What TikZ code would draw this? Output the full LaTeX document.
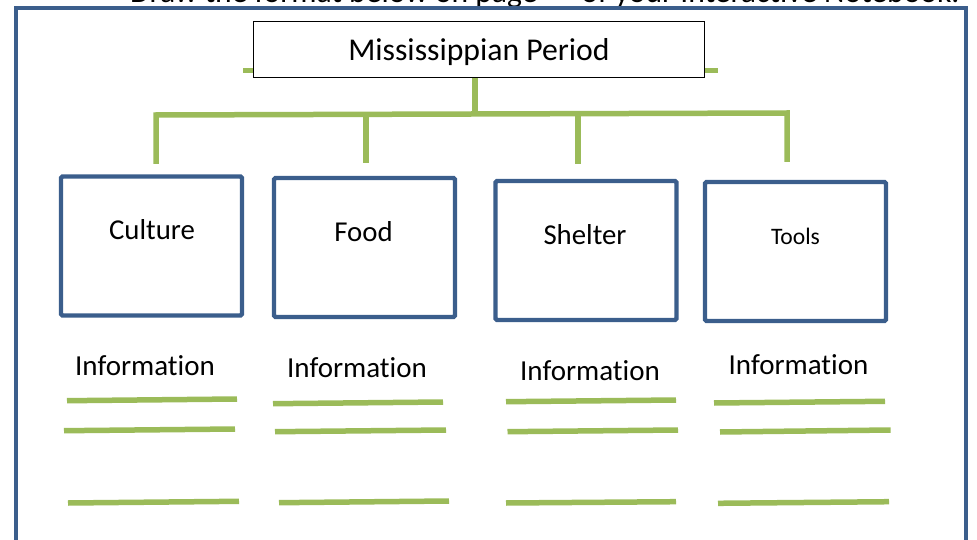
\documentclass[tikz,border=0pt]{standalone}
\usepackage{fontspec}
\setmainfont{Carlito}[Ligatures=NoCommon]
\usetikzlibrary{positioning}

\definecolor{frameblue}{HTML}{3B5E8C}
\definecolor{leafgreen}{HTML}{9BBB59}

\begin{document}
\begin{tikzpicture}[x=1pt,y=-1pt,
    catbox/.style={draw=frameblue,line width=4.3pt,rounded corners=1.5pt,minimum width=181pt,minimum height=139pt},
    catlabel/.style={anchor=base,inner sep=0pt,font=\fontsize{28.8}{34}\selectfont},
    infolabel/.style={anchor=base,inner sep=0pt,font=\fontsize{29}{35}\selectfont},
    branch/.style={draw=leafgreen,line width=5.5pt},
    writeline/.style={draw=leafgreen,line width=5.5pt}]
        \clip (0,0) rectangle (977,540);

        \node[anchor=base west,inner sep=0pt,font=\fontsize{31.6}{38}\selectfont] (note) at (130,3) {Draw the format below on page\hspace{44pt}of your Interactive Notebook.};
        \draw[frameblue,line width=4pt] (16,8) rectangle (966,600);

        % bar behind the title
        \coordinate (barW) at (243,71);
        \coordinate (barE) at (718,71);
        \draw[branch,line width=5pt] (barW) -- (barE);
        \node[draw,line width=1pt,fill=white,minimum width=451pt,minimum height=56pt,inner sep=0pt,
              text height=23pt,text depth=0pt,font=\fontsize{31.7}{38}\selectfont] (title) at (479,49.5) {Mississippian Period};

        % tree
        \coordinate (busMid) at (475,114);
        \coordinate (busW) at (156,115);
        \coordinate (busFood) at (366,114.5);
        \coordinate (busShelter) at (578,114);
        \coordinate (busE) at (787,113);
        \coordinate (dropCulture) at (156,164);
        \coordinate (dropFood) at (366,163);
        \coordinate (dropShelter) at (578,164);
        \coordinate (dropTools) at (787,162);
        \draw[branch] ([xshift=-4pt]title.south) -- (busMid);
        \draw[branch,line join=miter] (dropCulture) -- (busW) -- (busE) -- (dropTools);
        \draw[branch] (busFood) -- (dropFood);
        \draw[branch] (busShelter) -- (dropShelter);

        \node[catbox] (culture) at (151.5,246) {};
        \node[catbox] (food) at (364.5,247.5) {};
        \node[catbox] (shelter) at (586,250.5) {};
        \node[catbox] (tools) at (795.5,251.5) {};

        \node[catlabel] (cultureText) at (152,240) {Culture};
        \node[catlabel] (foodText) at (363.5,241) {Food};
        \node[catlabel] (shelterText) at (585,244) {Shelter};
        \node[catlabel,font=\fontsize{23.6}{28}\selectfont] (toolsText) at (795.5,244) {Tools};

        \node[infolabel] (cultureInfo) at (145,375) {Information};
        \node[infolabel] (foodInfo) at (357,377.7) {Information};
        \node[infolabel] (shelterInfo) at (590,380) {Information};
        \node[infolabel] (toolsInfo) at (798.5,374) {Information};

        % lines to write on
        \foreach \xa/\ya/\xb/\yb in {67/400.7/237/399, 64/430.7/235/429, 68/503/239/501.3,
                273/403.7/443/402, 275/431.7/446/430, 279/502.7/449/501,
                506/401.7/676/400, 507.5/431.7/678/430, 506/503/676/501.7,
                714/403/885/401.3, 720/432/890.6/430, 718/503.3/889/501.7}
            \draw[writeline] (\xa,\ya) -- (\xb,\yb);
\end{tikzpicture}
\end{document}
